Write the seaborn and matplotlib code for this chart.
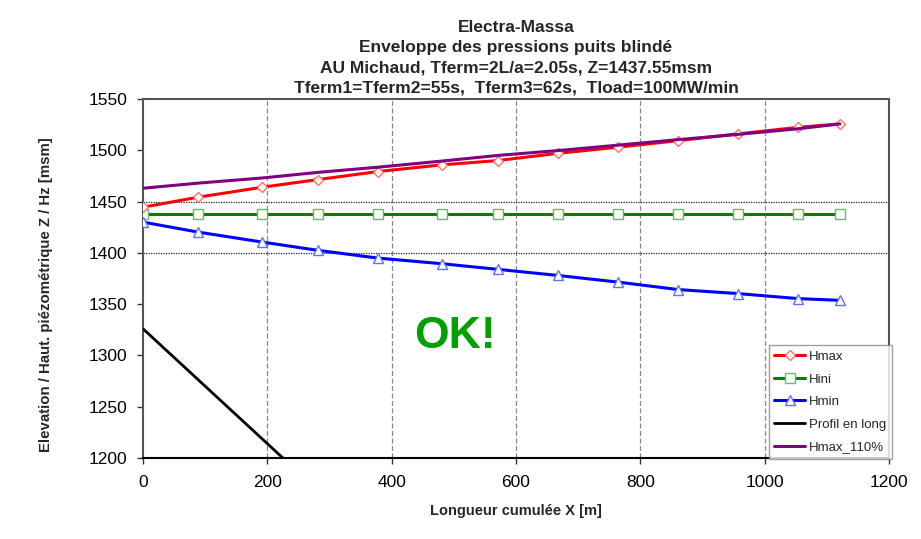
import matplotlib
matplotlib.use("Agg")
import matplotlib.pyplot as plt
import seaborn as sns
import pandas as pd

# ---- data ----
x_pts = [0, 89, 192, 282, 378, 481, 571, 667, 764, 861, 957, 1054, 1121]
hmax = [1444.5, 1454.3, 1464.0, 1471.5, 1479.3, 1485.8, 1490.0, 1497.0, 1503.0, 1509.4, 1516.0, 1522.4, 1525.7]
hini = [1437.55] * 13
hmin = [1430.0, 1420.2, 1410.5, 1402.4, 1394.9, 1389.4, 1383.9, 1378.0, 1371.5, 1364.2, 1360.3, 1355.4, 1353.7]
hmax110 = [1463.0, 1468.0, 1473.0, 1478.5, 1483.5, 1489.5, 1495.0, 1499.7, 1505.0, 1510.4, 1515.5, 1521.0, 1525.7]
profil_x = [0, 225, 300]
profil_z = [1326.0, 1200.0, 1158.0]

title_lines = ["Electra-Massa",
               "Enveloppe des pressions puits blindé",
               "AU Michaud, Tferm=2L/a=2.05s, Z=1437.55msm",
               "Tferm1=Tferm2=55s,  Tferm3=62s,  Tload=100MW/min"]
xticks = [0, 200, 400, 600, 800, 1000, 1200]
yticks = [1200, 1250, 1300, 1350, 1400, 1450, 1500, 1550]

sns.set_theme(style="white")
plt.rcParams['font.family'] = ['Liberation Sans', 'DejaVu Sans']

fig = plt.figure(figsize=(9.21, 5.39), dpi=100)
ax = fig.add_axes([143/921, 1 - 458/539, (889-143)/921, (458-99)/539])

df = pd.DataFrame({"x": x_pts, "Hmax": hmax, "Hini": hini, "Hmin": hmin, "Hmax_110%": hmax110})

sns.lineplot(data=df, x="x", y="Hmax", ax=ax, color="#ff0000", lw=2.2, marker="D", ms=5.5,
             markerfacecolor="white", markeredgecolor="#ff7070", markeredgewidth=1, label="Hmax", zorder=4)
sns.lineplot(data=df, x="x", y="Hini", ax=ax, color="#008000", lw=2.2, marker="s", ms=7,
             markerfacecolor="white", markeredgecolor="#66bb66", markeredgewidth=1, label="Hini", zorder=3)
sns.lineplot(data=df, x="x", y="Hmin", ax=ax, color="#0000ff", lw=2.2, marker="^", ms=6.5,
             markerfacecolor="white", markeredgecolor="#6070ff", markeredgewidth=1, label="Hmin", zorder=3)
sns.lineplot(x=profil_x, y=profil_z, ax=ax, color="black", lw=2, label="Profil en long", zorder=3)
sns.lineplot(data=df, x="x", y="Hmax_110%", ax=ax, color="#800080", lw=2.2, label="Hmax_110%", zorder=5)

ax.set_xlim(0, 1200)
ax.set_ylim(1200, 1550)
ax.set_xticks(xticks)
ax.set_yticks(yticks)
ax.tick_params(axis="both", labelsize=12.5, length=4, width=1, direction="out", colors="#333333",
               labelcolor="black", bottom=True, left=True)
ax.tick_params(axis="y", pad=7)
ax.tick_params(axis="x", pad=8)

for xv in [200, 400, 600, 800, 1000]:
    ax.axvline(xv, color="#888888", lw=0.9, ls=(0, (4, 2)), zorder=1)
for yv in [1400, 1450]:
    ax.axhline(yv, color="#222222", lw=0.9, ls=(0, (1, 1)), zorder=1)

for s in ax.spines.values():
    s.set_color("#555555")
    s.set_linewidth(1.5)
ax.spines["bottom"].set_color("black")

ax.set_xlabel("Longueur cumulée X [m]", fontsize=10.5, fontweight="bold", labelpad=10)
ax.set_ylabel("Elevation / Haut. piézométrique Z / Hz [msm]", fontsize=10.8, fontweight="bold")
ax.yaxis.set_label_coords(-0.12, 0.454)
ax.set_title("\n".join(title_lines), fontsize=12.5, fontweight="bold", linespacing=1.42, pad=5)

ax.text(501, 1318.5, "OK!", fontsize=32, fontweight="bold", color="#00a000",
        ha="center", va="center", zorder=6)

leg = ax.legend(loc="lower right", fontsize=9.5, frameon=True, fancybox=False,
                borderpad=0.45, labelspacing=0.78, handlelength=2.3, handletextpad=0.3,
                borderaxespad=0.0, bbox_to_anchor=(1.004, -0.003))
leg.get_frame().set_edgecolor("#888888")
leg.get_frame().set_linewidth(1.0)

fig.savefig("out.png", dpi=100)
